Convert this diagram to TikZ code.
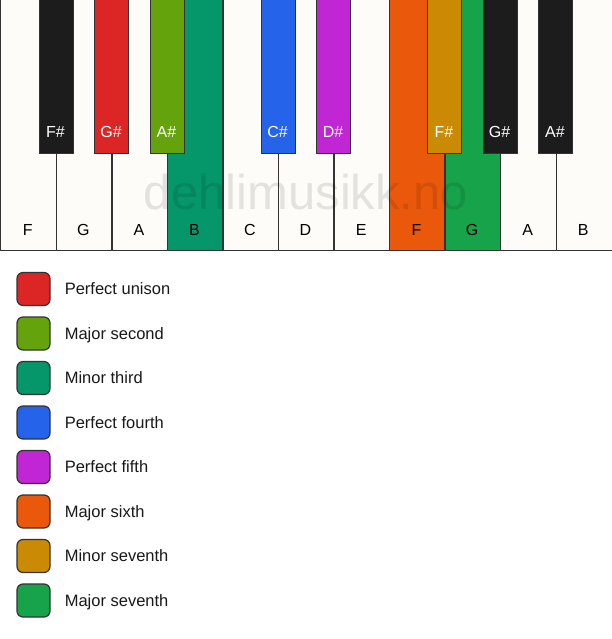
\documentclass[tikz,border=0pt]{standalone}
\usepackage{fontspec}
\setmainfont{Liberation Sans}
\usetikzlibrary{positioning}

\definecolor{keywhite}{HTML}{FDFCF9}
\definecolor{keyblack}{HTML}{1C1C1C}
\definecolor{keyline}{HTML}{333333}
\definecolor{unison}{HTML}{DC2626}
\definecolor{second}{HTML}{65A30D}
\definecolor{minthird}{HTML}{059669}
\definecolor{fourth}{HTML}{2563EB}
\definecolor{fifth}{HTML}{C026D3}
\definecolor{sixth}{HTML}{EA580C}
\definecolor{minseventh}{HTML}{CA8A04}
\definecolor{majseventh}{HTML}{16A34A}

\tikzset{
  whitekey/.style={draw=keyline, line width=1.4pt, fill=keywhite, anchor=north west,
    minimum width=55.55pt, minimum height=252pt, inner sep=0pt},
  blackkey/.style={draw=keyline, line width=1.4pt, fill=keyblack, anchor=north west,
    minimum width=34pt, minimum height=155pt, inner sep=0pt},
  whitename/.style={font=\fontsize{16}{19}\selectfont, text=black, text height=11.5pt, text depth=0pt},
  blackname/.style={font=\fontsize{16}{19}\selectfont, text=white, text height=11.5pt, text depth=0pt},
  swatch/.style={draw=keyline, line width=1.2pt, rounded corners=6pt,
    minimum size=33pt, inner sep=0pt},
  entry/.style={right=14pt of #1, inner sep=0pt, text height=12pt, text depth=0.3pt,
    font=\fontsize{16.5}{20}\selectfont, text=black!90}
}

\begin{document}
\begin{tikzpicture}[x=1pt,y=-1pt]
    \useasboundingbox[fill=white] (0,0) rectangle (611,639);

    % White keys
    \node[whitekey] (wF1) at (0,-2) {};
    \node[whitekey] (wG1) at (55.55,-2) {};
    \node[whitekey] (wA1) at (111.1,-2) {};
    \node[whitekey, fill=minthird] (wB1) at (166.65,-2) {};
    \node[whitekey] (wC) at (222.2,-2) {};
    \node[whitekey] (wD) at (277.75,-2) {};
    \node[whitekey] (wE) at (333.3,-2) {};
    \node[whitekey, fill=sixth] (wF2) at (388.85,-2) {};
    \node[whitekey, fill=majseventh] (wG2) at (444.4,-2) {};
    \node[whitekey] (wA2) at (499.95,-2) {};
    \node[whitekey, minimum width=58pt] (wB2) at (555.5,-2) {};

    % Names of the white keys
    \node[whitename] (nF1) at (27.8,230) {F};
    \node[whitename] (nG1) at (83.3,230) {G};
    \node[whitename] (nA1) at (138.9,230) {A};
    \node[whitename] (nB1) at (194.4,230) {B};
    \node[whitename] (nC) at (250,230) {C};
    \node[whitename] (nD) at (305.5,230) {D};
    \node[whitename] (nE) at (361.1,230) {E};
    \node[whitename] (nF2) at (416.6,230) {F};
    \node[whitename] (nG2) at (472.2,230) {G};
    \node[whitename] (nA2) at (527.7,230) {A};
    \node[whitename] (nB2) at (583.3,230) {B};

    % Watermark
    \node[font=\fontsize{49}{49}\selectfont, text=black, opacity=0.1] (mark) at (306,192) {dehlimusikk.no};

    % Black keys
    \node[blackkey] (bFs1) at (38.5,-2) {};
    \node[blackkey, fill=unison] (bGs1) at (94,-2) {};
    \node[blackkey, fill=second] (bAs1) at (149.5,-2) {};
    \node[blackkey, fill=fourth] (bCs) at (260.5,-2) {};
    \node[blackkey, fill=fifth] (bDs) at (316,-2) {};
    \node[blackkey, fill=minseventh] (bFs2) at (427,-2) {};
    \node[blackkey] (bGs2) at (482.5,-2) {};
    \node[blackkey] (bAs2) at (538,-2) {};

    % Names of the black keys
    \node[blackname] (nFs1) at (55.5,132) {F\#};
    \node[blackname] (nGs1) at (111,132) {G\#};
    \node[blackname] (nAs1) at (166.5,132) {A\#};
    \node[blackname] (nCs) at (277.5,132) {C\#};
    \node[blackname] (nDs) at (333,132) {D\#};
    \node[blackname] (nFs2) at (444,132) {F\#};
    \node[blackname] (nGs2) at (499.5,132) {G\#};
    \node[blackname] (nAs2) at (555,132) {A\#};

    % Legend
    \node[swatch, fill=unison] (sUnison) at (33.5,289) {};
    \node[entry=sUnison] (tUnison) {Perfect unison};
    \node[swatch, fill=second] (sSecond) at (33.5,333.5) {};
    \node[entry=sSecond] (tSecond) {Major second};
    \node[swatch, fill=minthird] (sThird) at (33.5,378) {};
    \node[entry=sThird] (tThird) {Minor third};
    \node[swatch, fill=fourth] (sFourth) at (33.5,422.5) {};
    \node[entry=sFourth] (tFourth) {Perfect fourth};
    \node[swatch, fill=fifth] (sFifth) at (33.5,467) {};
    \node[entry=sFifth] (tFifth) {Perfect fifth};
    \node[swatch, fill=sixth] (sSixth) at (33.5,511.5) {};
    \node[entry=sSixth] (tSixth) {Major sixth};
    \node[swatch, fill=minseventh] (sMinSev) at (33.5,556) {};
    \node[entry=sMinSev] (tMinSev) {Minor seventh};
    \node[swatch, fill=majseventh] (sMajSev) at (33.5,600.5) {};
    \node[entry=sMajSev] (tMajSev) {Major seventh};

\end{tikzpicture}
\end{document}
